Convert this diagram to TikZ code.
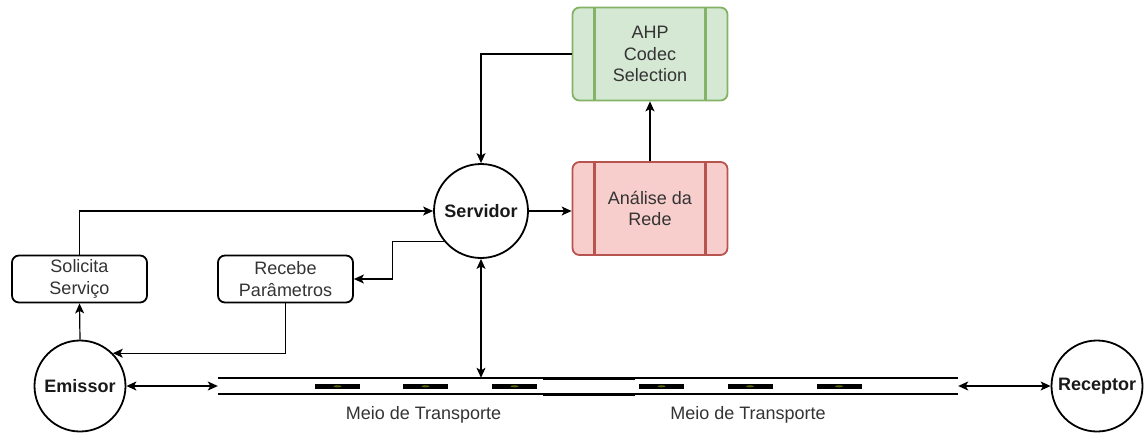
\documentclass[tikz,border=0pt]{standalone}
\usepackage{fontspec}
\setmainfont{Liberation Sans}
\usetikzlibrary{arrows.meta,calc}
\definecolor{redfill}{HTML}{F8CECC}
\definecolor{redline}{HTML}{B85450}
\definecolor{greenfill}{HTML}{D5E8D4}
\definecolor{greenline}{HTML}{82B366}
\definecolor{txt}{HTML}{333333}
\definecolor{dashcore}{HTML}{5A6A10}
\begin{document}
\begin{tikzpicture}[x=1pt,y=-1pt,
  tip/.tip={Stealth[length=10pt,width=9pt,inset=2.5pt]},
  conn/.style={draw=black, line width=1.2pt, -tip},
  both/.style={draw=black, line width=1.2pt, tip-tip},
  circ/.style={circle, draw=black, line width=1.8pt, minimum size=94pt, inner sep=0pt,
    font=\fontsize{18}{21}\selectfont\bfseries, text=black!90},
  rbox/.style={rounded corners=7pt, draw=black, line width=1.8pt, minimum width=135pt,
    minimum height=47pt, inner sep=0pt, align=center, text=txt,
    font=\fontsize{18}{21.5}\selectfont},
  proc/.style={rounded corners=7pt, draw=#1, line width=1.8pt, minimum width=155pt,
    minimum height=93pt, inner sep=0pt, align=center, text=txt,
    font=\fontsize{18}{21.5}\selectfont,
    path picture={\draw[#1, line width=2.2pt]
      ([xshift=22pt]path picture bounding box.north west) -- ([xshift=22pt]path picture bounding box.south west)
      ([xshift=-22pt]path picture bounding box.north east) -- ([xshift=-22pt]path picture bounding box.south east);}},
  lbl/.style={text=txt, font=\fontsize{18}{21}\selectfont, inner sep=0pt},
  roadline/.style={line width=2pt, draw=black},
  dashmark/.style={fill=black}
]
\useasboundingbox (0,0) rectangle (1145,432);

% nodes
\node[circ] (srv) at (481,211) {Servidor};
\node[proc=redline, fill=redfill] (ana) at (650,208.5) {Análise da\\Rede};
\node[proc=greenline, fill=greenfill] (ahp) at (650,54) {AHP\\Codec\\Selection};
\node[rbox] (sol) at (79.5,279) {Solicita\\Serviço};
\node[rbox] (rec) at (285.5,279) {Recebe\\Parâmetros};
\node[circ, minimum size=91pt] (emi) at (80,386) {Emissor};
\node[circ, minimum size=91pt] (rcp) at (1097,386) {Receptor};
\node[minimum width=740pt, minimum height=16pt, inner sep=0pt] (road) at (588,386) {};

% road
\draw[roadline] (road.north west) -- (road.north east);
\draw[roadline] (road.south west) -- (road.south east);
\draw[line width=3pt] (543,378) -- (635,378);
\draw[line width=3pt] (543,394) -- (635,394);
\foreach \x in {337.5,425.5,514.5,661.5,750,839}{
  \fill[dashmark] (\x-22.5,384) rectangle (\x+22.5,388.6);
  \fill[dashcore] (\x,386.3) ellipse (4pt and 1pt);
}
\node[lbl] (m1) at (423.5,415) {Meio de Transporte};
\node[lbl] (m2) at (748,415) {Meio de Transporte};

% connectors
\draw[conn] (ahp.west) -| (srv.north);
\draw[conn] (ana.north) -- (ahp.south);
\draw[conn] (srv.east) -- (srv.east -| ana.west);
\draw[conn] (sol.north) |- (srv.west);
\draw[conn] (srv.219) -- ++(-51,0) |- (rec.east);
\draw[conn] (rec.south) |- (emi.45);
\draw[conn] (emi.north) -- (sol.south);
\draw[both] (emi.east) -- (road.west);
\draw[both] (srv.south) -- (srv.south |- road.north);
\draw[both] (road.east) -- (rcp.west);
\end{tikzpicture}
\end{document}
